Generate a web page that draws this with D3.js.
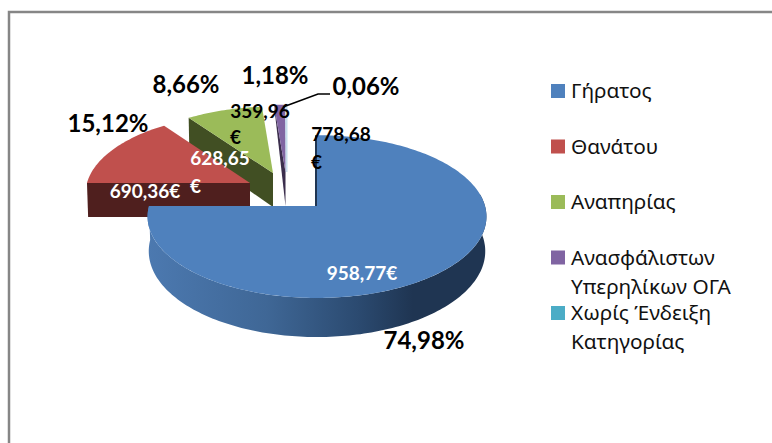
<!DOCTYPE html>
<html>
<head>
<meta charset="utf-8">
<script src="https://cdn.jsdelivr.net/npm/d3@7"></script>
<style>
body { margin: 0; background: #fff; }
svg { display: block; }
</style>
</head>
<body>
<script>
var w = 772;
var h = 443;

// chart data
var categories = ["Γήρατος", "Θανάτου", "Αναπηρίας", "Ανασφάλιστων Υπερηλίκων ΟΓΑ", "Χωρίς Ένδειξη Κατηγορίας"];
var percents = [74.98, 15.12, 8.66, 1.18, 0.06];
var amounts = ["958,77€", "690,36€", "628,65€", "359,96€", "778,68€"];

// legend text is wrapped by hand like in the original
var legendLines = [["Γήρατος"], ["Θανάτου"], ["Αναπηρίας"], ["Ανασφάλιστων", "Υπερηλίκων ΟΓΑ"], ["Χωρίς Ένδειξη", "Κατηγορίας"]];

var colors = ["#4f81bd", "#c0504d", "#9bbb59", "#8064a2", "#4bacc6"];
var wallColors = ["#1f3552", "#4f1f1e", "#414f23", "#3b2e4d", "#b9d3e6"];

// where each exploded slice sits: apex position and the radii of its ellipse
var sliceLayout = [
    {cx: 317, cy: 206, rx: 168, ry: 80, wallOuter: 34},
    {cx: 250, cy: 183, rx: 163, ry: 78, wallOuter: 34},
    {cx: 273, cy: 173, rx: 160, ry: 75, wallOuter: 34},
    {cx: 285.5, cy: 172, rx: 165, ry: 76, wallOuter: 2},
    {cx: 286.5, cy: 172, rx: 165, ry: 76, wallOuter: 2}
];
var depth = 34;
var perspective = 0.13;

// value label positions, one entry per line of text
var amountLabels = [
    [{x: 362, y: 280, t: 0}],
    [{x: 145, y: 198, t: 0}],
    [{x: 220, y: 165, t: 1}, {x: 190, y: 193, t: 2}],
    [{x: 260, y: 118, t: 1}, {x: 230, y: 144, t: 2}],
    [{x: 341, y: 141, t: 1}, {x: 311, y: 169, t: 2}]
];
var amountColors = ["#fff", "#fff", "#fff", "#000", "#000"];
var percentLabels = [{x: 424, y: 349}, {x: 108, y: 132}, {x: 186, y: 93}, {x: 275, y: 84}, {x: 366, y: 95}];

var svg = d3.select("body")
            .append("svg")
            .attr("width", w)
            .attr("height", h);

// only the top and left edge of the chart frame are in the picture
svg.append("path")
   .attr("d", d3.line()([[9, h], [9, 12], [w, 12]]))
   .attr("fill", "none")
   .attr("stroke", "#868686")
   .attr("stroke-width", 2.5);

var defs = svg.append("defs");
var wallGradient = defs.append("linearGradient")
                       .attr("id", "blueWall")
                       .attr("gradientUnits", "userSpaceOnUse")
                       .attr("x1", 147).attr("x2", 488)
                       .attr("y1", 0).attr("y2", 0);
wallGradient.append("stop").attr("offset", "0%").attr("stop-color", "#4c79b0");
wallGradient.append("stop").attr("offset", "35%").attr("stop-color", "#3f6796");
wallGradient.append("stop").attr("offset", "62%").attr("stop-color", "#2b4a70");
wallGradient.append("stop").attr("offset", "78%").attr("stop-color", "#1f3552");
wallGradient.append("stop").attr("offset", "100%").attr("stop-color", "#1f3552");

var pie = d3.pie().sort(null).value(function (d) { return d; });
var arcs = pie(percents);

// tilted pie: points at the back of the ellipse get smaller
function project(layout, angle, z) {
    var f = 1 / (1 + perspective * Math.cos(angle));
    var shrink = z > 0 ? 0.993 : 1;
    return [
        layout.cx + layout.rx * Math.sin(angle) * f * shrink,
        layout.cy - layout.ry * Math.cos(angle) * f + z * f
    ];
}

function sampleAngles(a0, a1) {
    var n = Math.max(2, Math.ceil(Math.abs(a1 - a0) / 0.02));
    return d3.range(n + 1).map(function (i) { return a0 + (a1 - a0) * i / n; });
}

function topFace(d, i) {
    var layout = sliceLayout[i];
    var pts = sampleAngles(d.startAngle, d.endAngle).map(function (a) { return project(layout, a, 0); });
    pts.push([layout.cx, layout.cy]);
    return d3.line()(pts) + "Z";
}

// the cut side of an exploded slice
function radialWall(d, i) {
    var layout = sliceLayout[i];
    var outer = project(layout, d.startAngle, 0);
    var outerLow = project(layout, d.startAngle, layout.wallOuter);
    return d3.line()([outer, [layout.cx, layout.cy], [layout.cx, layout.cy + depth], outerLow]) + "Z";
}

// the round side of the big slice
function roundWall() {
    var layout = sliceLayout[0];
    var angles = sampleAngles(Math.PI * 0.45, arcs[0].endAngle);
    var upper = angles.map(function (a) { return project(layout, a, 0); });
    var lower = angles.slice().reverse().map(function (a) { return project(layout, a, depth); });
    return d3.line()(upper.concat(lower)) + "Z";
}

var drawOrder = [4, 3, 2, 1];
drawOrder.forEach(function (i) {
    if (i < 4) {
        svg.append("path")
           .attr("d", radialWall(arcs[i], i))
           .attr("fill", wallColors[i]);
    }
    svg.append("path")
       .attr("d", topFace(arcs[i], i))
       .attr("fill", colors[i])
       .attr("stroke", i == 4 ? "#c6dcec" : "none")
       .attr("stroke-width", i == 4 ? 2 : 0);
});

// big slice goes on top of the others
svg.append("path")
   .attr("d", roundWall())
   .attr("fill", "url(#blueWall)");
svg.append("path")
   .attr("d", d3.line()([project(sliceLayout[0], 0, 0), [sliceLayout[0].cx, sliceLayout[0].cy]]))
   .attr("stroke", wallColors[0])
   .attr("stroke-width", 2)
   .attr("transform", "translate(-1,0)");
svg.append("path")
   .attr("d", topFace(arcs[0], 0))
   .attr("fill", colors[0]);

// leader line of the smallest slice
svg.append("path")
   .attr("d", d3.line()([[283, 107], [318, 94], [330, 94]]))
   .attr("fill", "none")
   .attr("stroke", "#000")
   .attr("stroke-width", 1.6);

var valueFont = "Lato, 'Open Sans', sans-serif";

// amount labels, the narrow ones are broken before the euro sign
amountLabels.forEach(function (lines, i) {
    lines.forEach(function (line) {
        var text = amounts[i];
        if (line.t == 1) text = text.slice(0, -1);
        if (line.t == 2) text = "€";
        svg.append("text")
           .attr("x", line.x)
           .attr("y", line.y)
           .attr("text-anchor", line.t == 2 ? "start" : "middle")
           .attr("font-family", valueFont)
           .attr("font-weight", 700)
           .attr("font-size", 19)
           .attr("fill", amountColors[i])
           .text(text);
    });
});

svg.selectAll("text.percent")
   .data(percents)
   .enter()
   .append("text")
   .attr("class", "percent")
   .attr("x", function (d, i) { return percentLabels[i].x; })
   .attr("y", function (d, i) { return percentLabels[i].y; })
   .attr("text-anchor", "middle")
   .attr("font-family", valueFont)
   .attr("font-weight", 700)
   .attr("font-size", 24)
   .attr("fill", "#000")
   .text(function (d) { return d3.format(".2f")(d).replace(".", ",") + "%"; });

// legend
var legendY = d3.scalePoint()
                .domain(categories)
                .range([84, 306]);
var legendColor = d3.scaleOrdinal().domain(categories).range(colors);

var legend = svg.selectAll("g.legend")
                .data(categories)
                .enter()
                .append("g")
                .attr("class", "legend")
                .attr("transform", function (d) { return "translate(551," + legendY(d) + ")"; });

legend.append("rect")
      .attr("width", 14)
      .attr("height", 14)
      .attr("fill", function (d) { return legendColor(d); });

legend.each(function (d, i) {
    var g = d3.select(this);
    legendLines[i].forEach(function (line, j) {
        g.append("text")
         .attr("x", 20)
         .attr("y", 14 + j * 29)
         .attr("font-family", "'Noto Sans', sans-serif")
         .attr("font-size", 20.8)
         .attr("fill", "#111")
         .text(line);
    });
});
</script>
</body>
</html>
